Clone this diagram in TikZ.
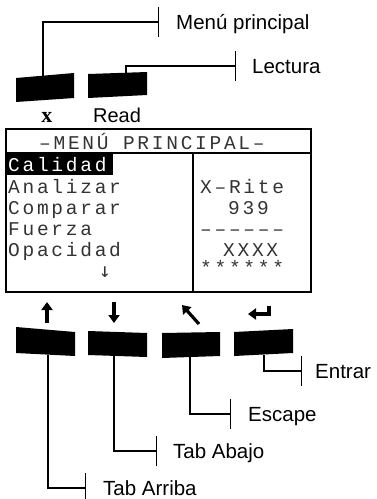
\documentclass[tikz,border=0pt]{standalone}
\usepackage{fontspec}
\usetikzlibrary{arrows.meta}
\newfontfamily\arial{Liberation Sans}
\newfontfamily\serifb{Liberation Serif}
\newfontfamily\lcdfont[LetterSpace=14]{Liberation Mono}
\newfontfamily\lcdarrow{DejaVu Sans Mono}
\begin{document}
\begin{tikzpicture}[x=1pt,y=-1pt,
  lbl/.style={font=\arial\fontsize{20.5}{24}\selectfont, inner xsep=17pt, inner ysep=0pt,
    text height=14.7pt, text depth=0pt, anchor=west},
  leader/.style={line width=1.3pt, -{Bar[width=30pt,line width=1.3pt]}},
  lcd/.style={font=\lcdfont\fontsize{19.5}{20}\selectfont, text=black!80, inner sep=0pt, anchor=base west},
  frame/.style={line width=2pt},
  symarrow/.style={line width=3.2pt, -{Triangle[length=8pt,width=11pt]}}]
\useasboundingbox (0,0) rectangle (376,499);
% top buttons
\fill (16,78) -- (74,73) -- (74,98) -- (16,102) -- cycle;
\coordinate (bx) at (43,75.7);
\fill (88,74) -- (147,72) -- (147,95) -- (88,98) -- cycle;
\coordinate (bread) at (126,72.7);
% top labels
\node[lbl] (mp) at (159,22) {Menú principal};
\node[lbl, inner xsep=16pt] (lect) at (236,66) {Lectura};
\draw[leader] (bx) |- (mp.west);
\draw[leader] (bread) |- (lect.west);
\node[font=\serifb\bfseries\fontsize{22}{24}\selectfont, inner sep=0pt, anchor=base] (xkey) at (47,122) {x};
\node[font=\arial\fontsize{20}{24}\selectfont, inner sep=0pt, anchor=base] (readkey) at (117,122) {Read};
% display
\draw[frame] (6,129) rectangle (311,292);
\draw[frame] (6,153) -- (311,153);
\draw[frame] (193,153) -- (193,292);
\node[lcd] (hdr) at (39,149) {–MENÚ PRINCIPAL–};
\fill (6,154) rectangle (113,175);
\node[lcd, text=white] (m1) at (8,171) {Calidad};
\node[lcd] (m2) at (8,193) {Analizar};
\node[lcd] (m3) at (8,214) {Comparar};
\node[lcd] (m4) at (8,235) {Fuerza};
\node[lcd] (m5) at (8,256) {Opacidad};
\node[font=\lcdarrow\fontsize{20}{22}\selectfont, text=black!80, inner sep=0pt] (more) at (105,272) {↓};
\node[lcd] (r1) at (200,193) {X–Rite};
\node[lcd] (r2) at (228,214) {939};
\node[lcd] (r3) at (200,235) {––––––};
\node[lcd] (r4) at (223,256) {XXXX};
\node[lcd] (r5) at (200,274) {******};
% arrow symbols
\draw[symarrow] (47,323) -- (47,302);
\draw[symarrow] (114,302) -- (114,323);
\draw[symarrow] (199,324) -- (182,305);
\draw[symarrow, line join=miter] (269,306) -- (269,314) -- (248,314);
% bottom buttons
\fill (16,327) -- (75,332) -- (75,356) -- (16,353) -- cycle;
\coordinate (bup) at (48,354.6);
\fill (88,331) -- (147,333) -- (147,357) -- (88,355) -- cycle;
\coordinate (bdown) at (114,355.9);
\fill (162,333) -- (220,332) -- (220,356) -- (162,358) -- cycle;
\coordinate (besc) at (190,357);
\fill (234,332) -- (293,329) -- (293,353) -- (234,356) -- cycle;
\coordinate (bent) at (264,354.5);
% bottom labels
\node[lbl, inner xsep=13pt] (ent) at (302,371) {Entrar};
\node[lbl] (esc) at (231,414) {Escape};
\node[lbl, inner xsep=16pt] (tabj) at (157,451) {Tab Abajo};
\node[lbl] (tabr) at (86,488) {Tab Arriba};
\draw[leader] (bent) |- (ent.west);
\draw[leader] (besc) |- (esc.west);
\draw[leader] (bdown) |- (tabj.west);
\draw[leader] (bup) |- (tabr.west);
\end{tikzpicture}
\end{document}
